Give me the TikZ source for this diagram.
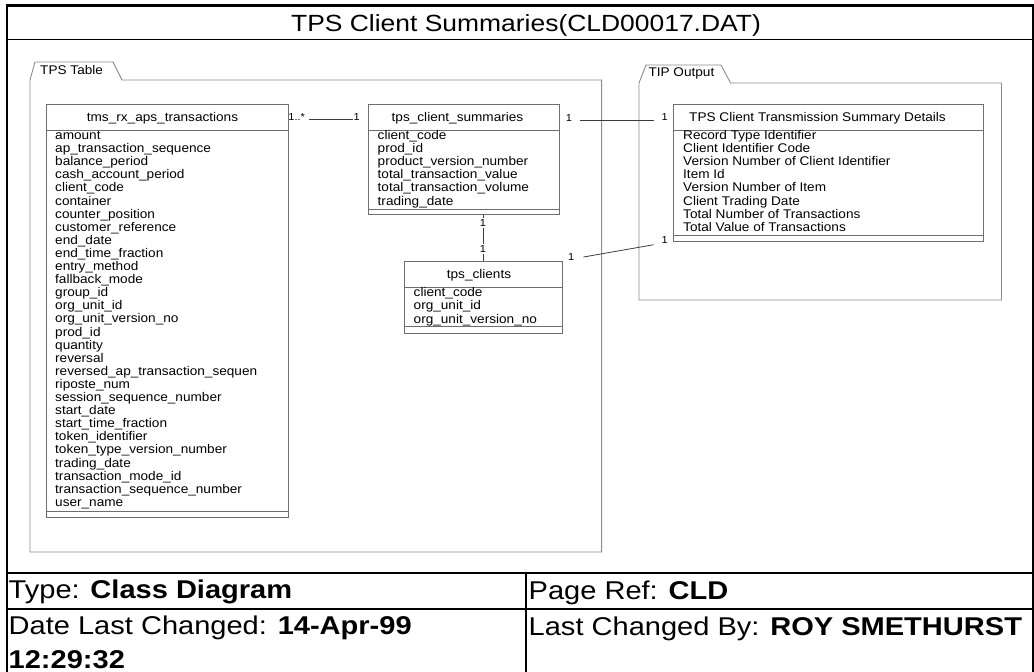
\documentclass[tikz,border=0pt]{standalone}
\usepackage{fontspec}
\setmainfont{Liberation Sans}
\newfontfamily\umlfont[FakeStretch=1.08]{Liberation Sans}
\newfontfamily\sheetfont[FakeStretch=1.13]{Liberation Sans}
\usetikzlibrary{calc}

\definecolor{boxgray}{HTML}{6E6E6E}
\definecolor{pkggray}{HTML}{8C8C8C}
\definecolor{linegray}{HTML}{3C3C3C}

\tikzset{
  classbox/.style={draw=boxgray, line width=0.9pt, fill=white, inner sep=0pt, anchor=north west},
  classline/.style={draw=boxgray, line width=0.9pt},
  pkg/.style={draw=pkggray, line width=0.9pt, line join=miter},
  attr/.style={anchor=base west, inner sep=0pt, font=\umlfont\fontsize{12.6}{13}\selectfont},
  cname/.style={anchor=base, inner sep=0pt, font=\umlfont\fontsize{12.6}{13}\selectfont},
  pkglabel/.style={anchor=base west, inner sep=0pt, font=\umlfont\fontsize{12.6}{13}\selectfont},
  mult/.style={anchor=base, inner sep=0pt, font=\umlfont\fontsize{10.2}{11}\selectfont},
  multw/.style={mult, fill=white, inner sep=1.5pt},
  assoc/.style={draw=linegray, line width=0.8pt},
  frame/.style={draw=black, line width=2.6pt, line join=miter},
  rule/.style={draw=black, line width=1.6pt},
  foot/.style={anchor=base west, inner sep=0pt, font=\sheetfont\fontsize{25.7}{34}\selectfont},
}

\begin{document}
\begin{tikzpicture}[x=1pt, y=-1pt]
\useasboundingbox (0,0) rectangle (1034,672);

% sheet frame and title bar
\draw[frame] (7,672) -- (7,5.5) -- (1033,5.5) -- (1033,672);
\draw[rule] (7,39.5) -- (1033,39.5);
\node[anchor=base, inner sep=0pt, font=\sheetfont\fontsize{23.4}{28}\selectfont] (title) at (526,31.7) {TPS Client Summaries(CLD00017.DAT)};

% packages
\draw[pkg] (30,552) -- (30,80) -- (35,62) -- (113,62) -- (122,80) -- (601.6,80) -- (601.6,552) -- cycle;
\node[pkglabel] (pkgTable) at (40,74) {TPS Table};
\draw[pkg] (639,300) -- (639,83) -- (646,65) -- (721,65) -- (730.6,83) -- (1001.5,83) -- (1001.5,300) -- cycle;
\node[pkglabel] (pkgOutput) at (648.3,76.7) {TIP Output};

% class tms_rx_aps_transactions
\node[classbox, minimum width=242.3pt, minimum height=413pt] (tms) at (45.7,104) {};
\draw[classline] (45.7,130) -- (288,130);
\draw[classline] (45.7,511) -- (288,511);
\node[cname] (tmsName) at (162.5,121.5) {tms\_rx\_aps\_transactions};
\foreach \t [count=\i from 0] in {amount, ap\_transaction\_sequence, balance\_period,
  cash\_account\_period, client\_code, container, counter\_position,
  customer\_reference, end\_date, end\_time\_fraction, entry\_method,
  fallback\_mode, group\_id, org\_unit\_id, org\_unit\_version\_no, prod\_id,
  quantity, reversal, reversed\_ap\_transaction\_sequen, riposte\_num,
  session\_sequence\_number, start\_date, start\_time\_fraction,
  token\_identifier, token\_type\_version\_number, trading\_date,
  transaction\_mode\_id, transaction\_sequence\_number, user\_name}
  \node[attr] (tms-\i) at (55,{139.5+13.1*\i}) {\t};

% class tps_client_summaries
\node[classbox, minimum width=191.3pt, minimum height=110pt] (summ) at (367.6,104) {};
\draw[classline] (367.6,130) -- (558.9,130);
\draw[classline] (367.6,209.3) -- (558.9,209.3);
\node[cname] (summName) at (457.5,121.5) {tps\_client\_summaries};
\foreach \t [count=\i from 0] in {client\_code, prod\_id, product\_version\_number,
  total\_transaction\_value, total\_transaction\_volume, trading\_date}
  \node[attr] (summ-\i) at (377.5,{139.5+13.1*\i}) {\t};

% class tps_clients
\node[classbox, minimum width=157.9pt, minimum height=72pt] (clients) at (403.6,260.7) {};
\draw[classline] (403.6,287.3) -- (561.5,287.3);
\draw[classline] (403.6,326.7) -- (561.5,326.7);
\node[cname] (clientsName) at (479,278) {tps\_clients};
\foreach \t [count=\i from 0] in {client\_code, org\_unit\_id, org\_unit\_version\_no}
  \node[attr] (clients-\i) at (413.5,{296.8+13.1*\i}) {\t};

% class TPS Client Transmission Summary Details
\node[classbox, minimum width=310.3pt, minimum height=137pt] (tip) at (672.7,103.5) {};
\draw[classline] (672.7,130) -- (983,130);
\draw[classline] (672.7,235) -- (983,235);
\node[cname] (tipName) at (817.5,121.5) {TPS Client Transmission Summary Details};
\foreach \t [count=\i from 0] in {Record Type Identifier, Client Identifier Code,
  Version Number of Client Identifier, Item Id, Version Number of Item,
  Client Trading Date, Total Number of Transactions, Total Value of Transactions}
  \node[attr] (tip-\i) at (683,{139.5+13.1*\i}) {\t};

% associations
\draw[assoc, shorten <=20.3pt, shorten >=14.9pt] (tms.east |- 0,119.3) -- (summ.west |- 0,119.3);
\node[mult] (mTmsMany) at (296.7,120.7) {1..*};
\node[mult] (mTmsOne) at (356.7,120.7) {1};

\draw[assoc, shorten <=20.1pt, shorten >=19.1pt] (summ.east |- 0,120) -- (tip.west |- 0,120);
\node[mult] (mSummTip) at (569,121) {1};
\node[mult] (mTipSumm) at (664.7,120.5) {1};

\draw[assoc] (summ.south -| 483,0) -- (clients.north -| 483,0);
\node[multw] (mSummCl) at (483,226.7) {1};
\node[multw] (mClSumm) at (483,252.7) {1};

\draw[assoc, shorten <=21.3pt, shorten >=19.4pt] (clients.north east) -- (tip.south west);
\node[mult] (mClTip) at (571.3,260.5) {1};
\node[mult] (mTipCl) at (664.7,243.3) {1};

% title block
\draw[rule] (7,573) -- (1033,573);
\draw[rule] (7,609) -- (1033,609);
\draw[rule] (526,573) -- (526,672);
\node[foot] (type) at (8.5,598) {Type: \textbf{Class Diagram}};
\node[foot] (pageRef) at (528.5,599) {Page Ref: \textbf{CLD}};
\node[foot] (dateChanged) at (8.5,634.5) {Date Last Changed: \textbf{14-Apr-99}};
\node[foot] (timeChanged) at (8.5,668.5) {\textbf{12:29:32}};
\node[foot] (changedBy) at (528.5,635.5) {Last Changed By: \textbf{ROY SMETHURST}};
\end{tikzpicture}
\end{document}
